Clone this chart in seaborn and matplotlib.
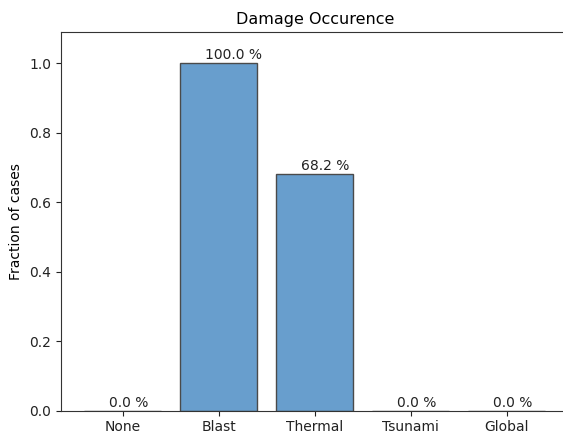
import matplotlib
matplotlib.use("Agg")
import matplotlib.pyplot as plt
import seaborn as sns
import pandas as pd

categories = ["None", "Blast", "Thermal", "Tsunami", "Global"]
fractions = [0.0, 1.0, 0.682, 0.0, 0.0]
labels = ["0.0 %", "100.0 %", "68.2 %", "0.0 %", "0.0 %"]

df = pd.DataFrame({"damage": categories, "fraction": fractions})

fig = plt.figure(figsize=(5.63, 4.37), dpi=100)
ax = fig.add_axes([60.7 / 563, 26.3 / 437, 508 / 563, (410.7 - 32.3) / 437])

sns.barplot(data=df, x="damage", y="fraction", color="#689ecd", saturation=1,
            edgecolor="#4a4a4a", linewidth=1.0, width=0.8, ax=ax)

for i, (v, lab) in enumerate(zip(fractions, labels)):
    ax.text(i - 0.145, v + 0.003, lab, ha="left", va="bottom", fontsize=10, color="#222222")

ax.set_xlim(-0.645, 4.645)
ax.set_ylim(0, 1.089)
ax.set_yticks([0.0, 0.2, 0.4, 0.6, 0.8, 1.0])
ax.set_xlabel("")
ax.set_ylabel("Fraction of cases", fontsize=10)
ax.set_title("Damage Occurence", fontsize=11.5)
for s in ax.spines.values():
    s.set_color("#333333")
ax.spines["right"].set_visible(False)
ax.tick_params(labelsize=10, colors="#222222")

fig.savefig("out.png", dpi=100)
